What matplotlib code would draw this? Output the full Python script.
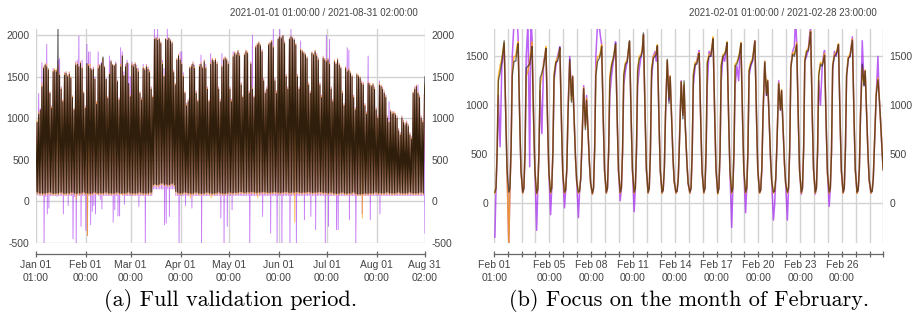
import numpy as np
import matplotlib
matplotlib.use("Agg")
import matplotlib.pyplot as plt
import matplotlib.dates as mdates

# ---------------- data: full validation period (daily trough at 02:00, daily peak at 18:00) -------------
actual_peak = [
    # Jan
    950, 1050, 1100, 1380, 1600, 1640, 1620, 1580, 1300, 1120,
    1560, 1580, 1560, 2075, 1520, 1350, 1200, 1520, 1540, 1500,
    1530, 1480, 1250, 1100, 1640, 1650, 1620, 1660, 1600, 1300, 1120,
    # Feb
    1660, 1630, 1600, 1580, 1590, 1470, 1170, 1600, 1630, 1660,
    1740, 1610, 1470, 1240, 1530, 1680, 1640, 1630, 1655, 1440,
    1220, 1620, 1750, 1510, 1620, 1665, 1420, 1260,
    # Mar
    1640, 1620, 1650, 1600, 1560, 1300, 1220, 1600, 1580, 1620,
    1590, 1550, 1350, 1250, 1950, 1960, 1940, 1950, 1900, 1650,
    1500, 1950, 1940, 1960, 1930, 1900, 1550, 1400, 1700, 1750, 1700,
    # Apr
    1650, 1500, 1300, 1150, 1200, 1600, 1620, 1650, 1600, 1300,
    1200, 1620, 1650, 1600, 1680, 1600, 1350, 1200, 1650, 1700,
    1680, 1700, 1650, 1350, 1200, 1620, 1700, 1720, 1700, 1650,
    # May
    1350, 1200, 1740, 1780, 1760, 1800, 1750, 1400, 1250, 1760,
    1800, 1780, 1300, 1650, 1350, 1250, 1850, 1880, 1900, 1870,
    1800, 1450, 1300, 1350, 1880, 1900, 1920, 1850, 1450, 1300, 1950,
    # Jun
    1980, 1960, 1990, 1900, 1500, 1350, 1950, 1980, 1960, 1940,
    1880, 1500, 1350, 1820, 1800, 1780, 1760, 1720, 1400, 1300,
    1780, 1760, 1800, 1750, 1700, 1400, 1250, 1720, 1700, 1680,
    # Jul
    1700, 1650, 1350, 1200, 1680, 1650, 1700, 1640, 1600, 1300,
    1150, 1600, 1560, 1580, 1540, 1500, 1250, 1100, 1520, 1500,
    1480, 1420, 1400, 1150, 1050, 1420, 1400, 1380, 1400, 1350, 1100,
    # Aug (1-30)
    1000, 1400, 1380, 1350, 1300, 1250, 1000, 950, 1080, 1050,
    1060, 1040, 1000, 850, 800, 1000, 950, 920, 940, 900,
    800, 750, 1300, 1350, 1380, 1300, 1250, 1000, 950, 1280,
]
actual_trough = [
    # Jan
    120, 110, 100, 100, 95, 100, 100, 105, 110, 110,
    100, 95, 100, 100, 100, 110, 110, 100, 95, 100,
    100, 100, 110, 110, 100, 95, 100, 100, 100, 110, 110,
    # Feb
    100, 100, 100, 95, 100, 110, 110, 100, 100, 105,
    100, 100, 110, 110, 100, 100, 100, 100, 100, 110,
    110, 100, 100, 100, 100, 100, 110, 110,
    # Mar
    100, 100, 100, 100, 100, 110, 110, 100, 100, 100,
    100, 100, 110, 110, 200, 210, 200, 200, 210, 220,
    220, 200, 210, 200, 200, 210, 220, 200, 120, 110, 100,
    # Apr
    100, 100, 110, 110, 105, 100, 100, 95, 100, 110,
    110, 100, 100, 95, 100, 100, 110, 110, 100, 100,
    95, 100, 100, 110, 110, 100, 100, 95, 100, 100,
    # May
    110, 110, 100, 105, 110, 105, 110, 115, 115, 110,
    105, 110, 115, 110, 115, 115, 110, 105, 110, 110,
    110, 115, 115, 110, 110, 105, 110, 110, 115, 115, 110,
    # Jun
    110, 105, 110, 110, 115, 115, 110, 105, 110, 110,
    110, 115, 115, 110, 105, 110, 110, 110, 115, 115,
    110, 105, 110, 110, 110, 115, 115, 110, 105, 110,
    # Jul
    105, 100, 110, 110, 100, 100, 95, 100, 100, 110,
    110, 100, 95, 100, 100, 100, 110, 110, 95, 90,
    90, 90, 90, 95, 100, 95, 100, 100, 100, 100, 110,
    # Aug (1-31, last sample 02:00 on Aug 31)
    110, 100, 105, 100, 100, 100, 110, 110, 100, 100,
    100, 100, 100, 110, 110, 100, 100, 100, 100, 100,
    110, 110, 100, 100, 100, 100, 100, 110, 110, 100, 1500,
]
purple_peak = [
    # Jan
    960, 1300, 1120, 1670, 1620, 1650, 1890, 1600, 1320, 1150,
    1600, 1560, 1580, 1700, 1720, 1380, 1220, 1550, 1560, 1520,
    1560, 1500, 1270, 1120, 1680, 1700, 1990, 1680, 1700, 1320, 1150,
    # Feb
    1890, 1800, 1800, 1600, 1620, 1500, 1200, 1800, 1650, 1680,
    1720, 1630, 1480, 1260, 1750, 1700, 1650, 1640, 1680, 1460,
    1250, 1850, 1800, 1560, 1650, 1700, 1660, 1500,
    # Mar
    1680, 1650, 1670, 1640, 1600, 1320, 1250, 1650, 1600, 1650,
    1620, 1580, 1380, 1270, 2075, 1980, 2075, 1970, 1920, 1700,
    1600, 1960, 2075, 1970, 1950, 1920, 1580, 1420, 1720, 1770, 1800,
    # Apr
    1800, 1550, 1320, 1180, 1230, 1620, 1650, 1680, 1640, 1330,
    1220, 1650, 1760, 1620, 1700, 1650, 1380, 1220, 1780, 1720,
    1700, 1720, 1680, 1380, 1230, 1780, 1720, 1740, 1720, 1680,
    # May
    1380, 1230, 1800, 1800, 1780, 1820, 1780, 1430, 1270, 1780,
    1820, 1800, 1330, 1680, 2000, 1270, 1870, 1900, 1920, 1890,
    1830, 1480, 1330, 1380, 1900, 1920, 1940, 2075, 1480, 1330, 1970,
    # Jun
    2075, 1980, 2000, 1930, 1530, 1380, 1970, 2075, 1980, 1960,
    1900, 1530, 1380, 1930, 1820, 1800, 1780, 1740, 1430, 1330,
    1800, 1780, 1820, 1780, 1730, 1430, 1280, 1750, 1720, 2000,
    # Jul
    1720, 1950, 1380, 1230, 1700, 1670, 1720, 1660, 1620, 1330,
    1180, 1620, 1850, 1820, 1560, 1520, 1280, 1130, 1540, 1520,
    1500, 1450, 1430, 1180, 1080, 1750, 1430, 1400, 1420, 1380, 1130,
    # Aug (1-30)
    1030, 1450, 1400, 1380, 1330, 1280, 1030, 1200, 1100, 1080,
    1080, 1060, 1030, 880, 830, 1030, 980, 950, 970, 930,
    830, 780, 1320, 1380, 1400, 1400, 1280, 1030, 980, 1300,
]
purple_trough = [
    # Jan
    90, 80, 70, 70, 70, -500, 60, -150, -80, 70,
    70, 70, 70, 60, 70, 70, 70, -150, 70, 70,
    -50, 70, 70, -450, 60, -500, 70, 70, -300, 70, 70,
    # Feb
    -350, -410, 70, -280, -120, -50, -150, 90, 70, 25,
    -90, 70, 70, 70, 70, 70, 70, -250, -100, 70,
    -175, -175, 90, 70, -35, 70, 70, 70,
    # Mar
    70, 70, 70, 70, 70, -60, 70, 70, 70, -500,
    70, 70, 70, 70, 150, 150, 150, 150, 150, 150,
    150, -280, -260, 150, -180, 150, 150, 150, 70, 70, -500,
    # Apr
    70, 70, 70, -50, 70, 70, 70, -80, 70, 70,
    70, 70, 70, -500, 70, 70, 70, 70, 70, 70,
    70, 70, 70, 70, 70, -200, 70, -500, 70, -300,
    # May
    70, 70, -100, 70, 70, 70, 70, 70, 70, 70,
    70, 70, 70, -500, 70, 70, 70, 70, 70, 70,
    70, -180, 70, 70, 70, 70, -380, 70, 70, 70, -500,
    # Jun
    70, 70, -500, 70, 70, 70, 70, -500, 70, 70,
    70, -500, 70, 70, 70, 70, -220, 70, 70, 70,
    -180, 70, 70, -340, 70, 70, 70, 70, 70, -500,
    # Jul
    70, -300, 70, 70, 70, 70, -340, -340, 70, 70,
    70, 70, 70, 70, -220, 70, 70, 70, -500, 70,
    70, 70, -150, 70, 70, 70, 70, -220, 70, 70, 70,
    # Aug
    70, 70, -150, 70, 70, 70, 70, 70, 70, 70,
    70, 70, 70, 70, 70, 70, 70, 70, 70, 70,
    70, 70, 70, 70, 70, 70, 70, 70, 70, 70, -380,
]
orange_peak = [
    # Jan
    980, 1080, 1100, 1420, 1620, 1660, 1650, 1600, 1320, 1140,
    1580, 1600, 1590, 1640, 1540, 1370, 1220, 1540, 1560, 1520,
    1550, 1500, 1270, 1120, 1660, 1670, 1640, 1680, 1620, 1320, 1140,
    # Feb
    1650, 1650, 1650, 1590, 1600, 1480, 1200, 1640, 1640, 1650,
    1720, 1620, 1470, 1260, 1540, 1690, 1650, 1640, 1660, 1450,
    1240, 1650, 1760, 1520, 1630, 1670, 1400, 1280,
    # Mar
    1660, 1640, 1670, 1620, 1580, 1320, 1240, 1620, 1600, 1640,
    1610, 1570, 1370, 1270, 1960, 1970, 1960, 1960, 1920, 1670,
    1520, 1960, 1950, 1970, 1940, 1920, 1570, 1420, 1720, 1770, 1720,
    # Apr
    1670, 1520, 1320, 1170, 1220, 1620, 1640, 1670, 1620, 1320,
    1220, 1640, 1670, 1620, 1700, 1620, 1370, 1220, 1670, 1720,
    1700, 1720, 1670, 1370, 1220, 1640, 1720, 1740, 1720, 1670,
    # May
    1370, 1220, 1760, 1800, 1780, 1820, 1770, 1420, 1270, 1780,
    1820, 1800, 1320, 1670, 1370, 1270, 1870, 1900, 1920, 1890,
    1820, 1470, 1320, 1370, 1900, 1920, 1940, 1870, 1470, 1320, 1960,
    # Jun
    1990, 1970, 2000, 1920, 1520, 1370, 1960, 1990, 1970, 1950,
    1900, 1520, 1370, 1840, 1820, 1800, 1780, 1740, 1420, 1320,
    1800, 1780, 1820, 1770, 1720, 1420, 1270, 1740, 1720, 1700,
    # Jul
    1720, 1670, 1370, 1220, 1700, 1670, 1720, 1660, 1620, 1320,
    1170, 1620, 1580, 1600, 1560, 1520, 1270, 1120, 1540, 1520,
    1500, 1440, 1420, 1170, 1070, 1440, 1420, 1400, 1420, 1370, 1120,
    # Aug (1-30)
    1020, 1420, 1400, 1370, 1320, 1270, 1020, 970, 1100, 1070,
    1080, 1060, 1020, 870, 820, 1020, 970, 940, 960, 920,
    820, 770, 1320, 1370, 1400, 1320, 1270, 1020, 970, 1300,
]
orange_trough = [
    # Jan
    100, 90, 80, 80, 70, 80, 80, 85, 90, 90,
    80, 75, 80, 80, 80, 90, 90, 80, 75, 80,
    80, 80, 90, 90, 80, 30, 80, 80, 80, 90, 90,
    # Feb
    80, -410, 80, 75, 80, 90, 90, 80, 80, 85,
    80, 80, 90, 90, 80, 80, 80, 80, 80, 90,
    90, 80, 80, 80, 80, 80, 90, 90,
    # Mar
    80, 80, 80, 80, 80, 90, 90, 80, 80, 80,
    80, 80, 90, 90, 180, 190, 180, 180, 190, 200,
    200, 180, 190, 180, 180, 190, 200, 180, 100, 90, 80,
    # Apr
    80, 80, 90, 90, 85, 80, 40, 75, 80, 90,
    90, 80, 80, 75, 80, 80, 90, 90, 80, 40,
    75, 80, 80, 90, 90, 80, 80, 75, 80, 80,
    # May
    90, 90, 80, 85, 90, 85, 90, 95, 95, 90,
    85, 90, 95, 90, 95, 95, 90, 85, 40, 90,
    90, 95, 95, 90, 90, 85, 90, 90, 95, 95, 90,
    # Jun
    90, 85, 90, 90, 95, 95, 90, 85, 90, 90,
    -250, 95, 95, 90, 85, 90, 90, 90, 95, 95,
    90, 85, 90, 90, 90, 95, 95, 90, 85, 90,
    # Jul
    85, 80, 90, 90, 80, 80, 75, 80, 80, 90,
    90, 80, 75, 80, 80, 80, 90, 90, 75, 70,
    70, 70, -200, 75, 80, 75, 80, 80, 80, 80, 90,
    # Aug
    90, 80, 85, 80, 80, 80, 90, 90, 80, 80,
    80, 80, 80, 90, 90, 80, 80, 80, 80, 80,
    90, 90, 80, 80, 80, 80, 80, 90, 90, 80, 1400,
]

# ---------------- data: February, values at these hours of each day -------------
feb_hours = [2, 4, 6, 8, 11, 14, 16, 18, 21, 23]
feb_actual = [
    [110, 150, 550, 1250, 1330, 1450, 1550, 1660, 820, 340],
    [110, 150, 550, 1300, 1450, 1450, 1550, 1630, 800, 330],
    [110, 150, 520, 1380, 1400, 1420, 1500, 1600, 790, 330],
    [100, 140, 520, 1280, 1330, 1400, 1480, 1580, 780, 320],
    [110, 150, 520, 1300, 1440, 1450, 1500, 1590, 760, 300],
    [110, 130, 350, 900, 1470, 1030, 1290, 950, 450, 220],
    [110, 120, 250, 600, 1170, 750, 1050, 800, 400, 200],
    [100, 150, 550, 1300, 1450, 1480, 1520, 1600, 790, 330],
    [110, 150, 520, 1250, 1400, 1480, 1550, 1630, 800, 330],
    [110, 150, 520, 1300, 1420, 1440, 1560, 1660, 820, 340],
    [110, 150, 550, 1350, 1480, 1500, 1560, 1740, 860, 350],
    [110, 150, 520, 1350, 1480, 1500, 1520, 1610, 790, 330],
    [110, 130, 350, 900, 1470, 1020, 1290, 950, 450, 220],
    [110, 120, 250, 600, 1240, 860, 1250, 800, 400, 200],
    [110, 150, 520, 1300, 1420, 1420, 1480, 1530, 760, 320],
    [110, 150, 550, 1430, 1500, 1500, 1580, 1680, 830, 340],
    [100, 150, 520, 1400, 1500, 1520, 1560, 1640, 810, 330],
    [110, 150, 520, 1400, 1420, 1480, 1540, 1630, 800, 330],
    [110, 150, 520, 1350, 1420, 1460, 1560, 1655, 820, 340],
    [110, 130, 350, 900, 1440, 1100, 1250, 950, 450, 220],
    [110, 120, 250, 600, 1220, 950, 1150, 850, 400, 200],
    [110, 150, 550, 1380, 1520, 1500, 1560, 1620, 800, 330],
    [110, 150, 550, 1450, 1550, 1560, 1640, 1750, 860, 350],
    [110, 150, 520, 1300, 1420, 1400, 1450, 1510, 750, 310],
    [110, 150, 520, 1400, 1500, 1520, 1560, 1620, 800, 330],
    [110, 150, 550, 1300, 1480, 1500, 1580, 1665, 820, 340],
    [110, 130, 350, 900, 1420, 1200, 1350, 1000, 480, 230],
    [110, 120, 250, 600, 1100, 1260, 1100, 900, 550, 340],
]
feb_purple = [
    [-350, 150, 500, 1100, 575, 1400, 1500, 1620, 830, 340],
    [-410, 150, 600, 1500, 1850, 1850, 1900, 1700, 820, 330],
    [100, 150, 520, 1500, 1850, 370, 1900, 1700, 800, 330],
    [-280, 150, 520, 1150, 710, 1450, 1500, 1580, 790, 320],
    [-120, 150, 520, 1250, 1400, 1500, 1550, 1600, 760, 300],
    [-50, 130, 350, 950, 1500, 1100, 1300, 950, 450, 220],
    [-150, 130, 250, 600, 1200, 800, 1100, 800, 400, 200],
    [90, 150, 600, 1500, 1850, 1800, 1700, 1620, 800, 330],
    [100, 150, 520, 1100, 1300, 1450, 1500, 1650, 800, 330],
    [25, 150, 520, 1200, 1350, 1450, 1550, 1650, 820, 340],
    [-90, 150, 520, 1200, 1380, 1500, 1550, 1720, 850, 350],
    [100, 150, 520, 1250, 1500, 1550, 1450, 1600, 790, 330],
    [100, 130, 350, 900, 1450, 1050, 1300, 950, 450, 220],
    [100, 120, 250, 650, 1250, 900, 1200, 800, 400, 200],
    [100, 150, 520, 1200, 1400, 1450, 1520, 1560, 760, 320],
    [100, 150, 520, 1200, 1550, 1500, 1600, 1680, 830, 340],
    [100, 150, 520, 1250, 1500, 1450, 1550, 1640, 810, 330],
    [-250, 150, 520, 1200, 1400, 1250, 1500, 1640, 800, 330],
    [-100, 150, 520, 1300, 1400, 1450, 1550, 1660, 820, 340],
    [100, 130, 350, 900, 1450, 1100, 1250, 950, 450, 220],
    [-175, -20, 250, 600, 1250, 950, 1150, 850, 400, 200],
    [-175, 150, 550, 1400, 1550, 1600, 1900, 1650, 800, 330],
    [90, 150, 550, 1450, 1500, 1560, 1700, 1800, 860, 350],
    [90, 150, 520, 1250, 1000, 1400, 1500, 1560, 750, 310],
    [-35, 150, 520, 1350, 1550, 1500, 1560, 1620, 800, 330],
    [100, 150, 550, 1300, 1480, 1500, 1600, 1700, 820, 340],
    [100, 130, 350, 900, 1660, 1200, 1350, 1000, 480, 230],
    [100, 120, 250, 600, 1100, 1500, 1100, 900, 550, 340],
]
feb_orange = [
    [100, 170, 580, 1300, 1400, 1480, 1560, 1640, 830, 340],
    [-410, 160, 560, 1350, 1500, 1500, 1600, 1650, 810, 330],
    [100, 160, 540, 1300, 1350, 1450, 1550, 1650, 800, 330],
    [90, 150, 540, 1200, 1300, 1420, 1500, 1600, 790, 320],
    [100, 160, 540, 1320, 1450, 1480, 1520, 1580, 760, 300],
    [100, 140, 370, 930, 1450, 1050, 1300, 950, 450, 220],
    [100, 130, 270, 620, 1180, 780, 1070, 810, 400, 200],
    [90, 160, 570, 1350, 1500, 1500, 1550, 1620, 800, 330],
    [100, 160, 540, 1300, 1420, 1480, 1560, 1620, 800, 330],
    [100, 160, 540, 1320, 1440, 1460, 1560, 1650, 820, 340],
    [100, 160, 570, 1380, 1500, 1520, 1580, 1720, 860, 350],
    [100, 160, 540, 1380, 1500, 1520, 1540, 1620, 790, 330],
    [100, 140, 370, 930, 1460, 1080, 1300, 950, 450, 220],
    [100, 130, 270, 620, 1240, 900, 1220, 800, 400, 200],
    [100, 160, 540, 1320, 1440, 1440, 1500, 1540, 760, 320],
    [100, 160, 570, 1450, 1520, 1520, 1600, 1700, 830, 340],
    [90, 160, 540, 1420, 1520, 1530, 1570, 1650, 810, 330],
    [100, 160, 540, 1420, 1440, 1500, 1550, 1640, 800, 330],
    [100, 160, 540, 1370, 1440, 1480, 1570, 1660, 820, 340],
    [100, 140, 370, 930, 1450, 1120, 1260, 950, 450, 220],
    [100, 130, 270, 620, 1230, 960, 1160, 850, 400, 200],
    [100, 160, 570, 1400, 1540, 1520, 1580, 1640, 800, 330],
    [100, 160, 570, 1470, 1560, 1580, 1660, 1760, 860, 350],
    [100, 160, 540, 1320, 1440, 1420, 1470, 1530, 750, 310],
    [100, 160, 540, 1420, 1520, 1540, 1580, 1630, 800, 330],
    [100, 160, 570, 1320, 1500, 1520, 1600, 1680, 820, 340],
    [100, 140, 370, 930, 1380, 1220, 1360, 1000, 480, 230],
    [100, 130, 270, 620, 1120, 1280, 1120, 900, 550, 340],
]

left_ticks = ["2021-01-01T01:00", "2021-02-01T00:00", "2021-03-01T00:00", "2021-04-01T00:00",
              "2021-05-01T00:00", "2021-06-01T00:00", "2021-07-01T00:00", "2021-08-01T00:00",
              "2021-08-31T02:00"]
left_labels = ["Jan 01\n01:00", "Feb 01\n00:00", "Mar 01\n00:00", "Apr 01\n00:00", "May 01\n00:00",
               "Jun 01\n00:00", "Jul 01\n00:00", "Aug 01\n00:00", "Aug 31\n02:00"]
left_yticks = [-500, 0, 500, 1000, 1500, 2000]
right_yticks = [0, 500, 1000, 1500]
left_title = "2021-01-01 01:00:00 / 2021-08-31 02:00:00"
right_title = "2021-02-01 01:00:00 / 2021-02-28 23:00:00"
cap_a = "(a) Full validation period."
cap_b = "(b) Focus on the month of February."

# ---------------- build series ----------------
def daily_zigzag(trough, peak):
    days = np.datetime64("2021-01-01T00:00") + np.arange(len(trough)).astype("timedelta64[D]")
    t_tr = days + np.timedelta64(2, "h")
    t_pk = days[:len(peak)] + np.timedelta64(18, "h")
    n = len(trough) + len(peak)
    t = np.empty(n, dtype="datetime64[m]")
    v = np.empty(n)
    t[0::2] = t_tr
    v[0::2] = trough
    t[1::2] = t_pk
    v[1::2] = peak
    return mdates.date2num(t), v


def feb_series(rows):
    days = np.datetime64("2021-02-01T00:00") + np.arange(len(rows)).astype("timedelta64[D]")
    hrs = np.array(feb_hours).astype("timedelta64[h]")
    t = (days[:, None] + hrs[None, :]).ravel()
    return mdates.date2num(t), np.array(rows, dtype=float).ravel()


PURPLE = "#a020f0"
ORANGE = "#ffa500"
BLACK = "#000000"
GRID = "#d2d2d2"
TXT = "#444444"
SANS = ["Liberation Sans", "DejaVu Sans"]

fig = plt.figure(figsize=(9.15, 3.2), dpi=100)
axL = fig.add_axes([0.0393, 0.2406, 0.4251, 0.6688])
axR = fig.add_axes([0.5402, 0.2406, 0.4250, 0.6688])


def style(ax, yticks):
    for s in ["left", "right", "top"]:
        ax.spines[s].set_visible(False)
    ax.spines["bottom"].set_position(("outward", 8))
    ax.spines["bottom"].set_color("#666666")
    ax.spines["bottom"].set_linewidth(0.9)
    ax.set_yticks(yticks)
    ax.set_yticklabels([str(v) for v in yticks])
    ax.tick_params(axis="y", length=0, labelleft=True, labelright=True, pad=4.5,
                   labelsize=7.5, labelcolor=TXT)
    ax.tick_params(axis="x", direction="inout", length=5, width=0.9, color="#666666",
                   labelsize=7.5, labelcolor=TXT, pad=2)
    ax.grid(True, color=GRID, lw=1.0)
    ax.set_axisbelow(True)
    for lab in ax.get_xticklabels() + ax.get_yticklabels():
        lab.set_family(SANS)


# left panel
x, v = daily_zigzag(purple_trough, purple_peak)
axL.plot(x, v, color=PURPLE, lw=0.65, alpha=0.6)
x, v = daily_zigzag(orange_trough, orange_peak)
axL.plot(x, v, color=ORANGE, lw=0.65, alpha=0.75)
x, v = daily_zigzag(actual_trough, actual_peak)
axL.plot(x, v, color=BLACK, lw=0.65, alpha=0.8)
lt = mdates.date2num(np.array(left_ticks, dtype="datetime64[m]"))
axL.set_xlim(lt[0], lt[-1])
axL.set_ylim(-500, 2075)
axL.set_xticks(lt)
axL.set_xticklabels(left_labels)
style(axL, left_yticks)

# right panel
x, v = feb_series(feb_purple)
axR.plot(x, v, color=PURPLE, lw=1.1, alpha=0.7)
x, v = feb_series(feb_orange)
axR.plot(x, v, color=ORANGE, lw=1.1, alpha=0.75)
x, v = feb_series(feb_actual)
axR.plot(x, v, color=BLACK, lw=1.0, alpha=0.55)
r0 = mdates.date2num(np.datetime64("2021-02-01T01:00"))
r1 = mdates.date2num(np.datetime64("2021-02-28T23:00"))
mids = mdates.date2num(np.datetime64("2021-02-02T00:00") + np.arange(27).astype("timedelta64[D]"))
rt = np.concatenate([[r0], mids, [r1]])
rlabels = ["Feb 01\n01:00"]
for i in range(27):
    dnum = i + 2
    rlabels.append(f"Feb {dnum:02d}\n00:00" if (dnum - 2) % 3 == 0 and dnum >= 5 else "")
rlabels.append("")
axR.set_xlim(r0, r1)
axR.set_ylim(-410, 1780)
axR.set_xticks(rt)
axR.set_xticklabels(rlabels)
style(axR, right_yticks)

for lab in axL.get_xticklabels() + axR.get_xticklabels():
    lab.set_linespacing(1.35)

fig.text(418 / 915, 1 - 13 / 320, left_title, ha="right", va="center", fontsize=7,
         color=TXT, family=SANS)
fig.text(877 / 915, 1 - 13 / 320, right_title, ha="right", va="center", fontsize=7,
         color=TXT, family=SANS)
fig.text(231 / 915, 1 - 300 / 320, cap_a, ha="center", va="center", fontsize=16,
         family=["cmr10", "DejaVu Serif"], color="black")
fig.text(689 / 915, 1 - 300 / 320, cap_b, ha="center", va="center", fontsize=16,
         family=["cmr10", "DejaVu Serif"], color="black")

fig.savefig("out.png", dpi=100, facecolor="white")
